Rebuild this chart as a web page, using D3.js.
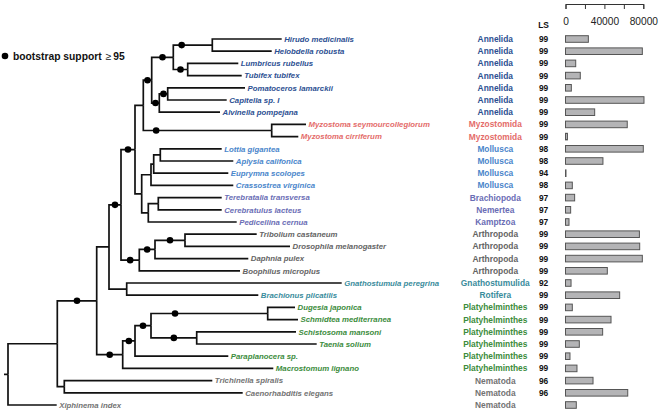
<!DOCTYPE html>
<html><head><meta charset="utf-8">
<script src="https://cdn.jsdelivr.net/npm/d3@7"></script>
<style>
html,body{margin:0;padding:0;background:#fff;}
svg{display:block;font-family:"Liberation Sans",Arial,Helvetica,sans-serif;}
</style></head><body>
<svg id="chart" width="661" height="412"></svg>
<script>
// ---------------- DATA ----------------
const taxa = ["Hirudo medicinalis","Helobdella robusta","Lumbricus rubellus","Tubifex tubifex","Pomatoceros lamarckii","Capitella sp. I","Alvinella pompejana","Myzostoma seymourcollegiorum","Myzostoma cirriferum","Lottia gigantea","Aplysia califonica","Euprymna scolopes","Crassostrea virginica","Terebratalia transversa","Cerebratulus lacteus","Pedicellina cernua","Tribolium castaneum","Drosophila melanogaster","Daphnia pulex","Boophilus microplus","Gnathostumula peregrina","Brachionus plicatilis","Dugesia japonica","Schmidtea mediterranea","Schistosoma mansoni","Taenia solium","Paraplanocera sp.","Macrostomum lignano","Trichinella spiralis","Caenorhabditis elegans","Xiphinema index"];
const phyla = ["Annelida","Annelida","Annelida","Annelida","Annelida","Annelida","Annelida","Myzostomida","Myzostomida","Mollusca","Mollusca","Mollusca","Mollusca","Brachiopoda","Nemertea","Kamptzoa","Arthropoda","Arthropoda","Arthropoda","Arthropoda","Gnathostumulida","Rotifera","Platyhelminthes","Platyhelminthes","Platyhelminthes","Platyhelminthes","Platyhelminthes","Platyhelminthes","Nematoda","Nematoda","Nematoda"];
const lsValues = [99,99,99,99,99,99,99,99,99,98,98,94,98,97,97,97,99,99,99,99,92,99,99,99,99,99,99,99,96,96,null];
const dataSize = [23500,79000,10500,15200,6000,80700,30000,63500,2000,80000,38500,500,7000,9400,5300,3600,76000,76300,79000,43000,5700,55700,7000,46800,38200,14200,4600,11800,28300,64000,11100];
const axisTicks = [0,20000,40000,60000,80000];
const axisLabels = [0,40000,80000];
// tree topology with branch lengths (arbitrary units)
const newick = "((((((((((Hirudo_medicinalis:69.4,Helobdella_robusta:59.4)Leech:39,(Lumbricus_rubellus:50.6,Tubifex_tubifex:54)Olig:14.4)Clit:21.6,((Pomatoceros_lamarckii:77.3,Capitella_sp._I:59)PC:8.4,Alvinella_pompejana:60.7)Poly:7.6)Ann:8.4,(Myzostoma_seymourcollegiorum:34.3,Myzostoma_cirriferum:26.6)Myzo:128.4)AnnMyz:8.3,((((Lottia_gigantea:61.4,Aplysia_califonica:73)LA:6.6,Euprymna_scolopes:74.6)LAE:2.7,Crassostrea_virginica:82.3)Mol:9.3,((Terebratalia_transversa:63.4,Cerebratulus_lacteus:63.4)TC:10,Pedicellina_cernua:88.4)Lph:6.6)MolLph:6.7)Lopho:14,(((Tribolium_castaneum:71.7,Drosophila_melanogaster:105)Ins:30,Daphnia_pulex:93.3)Pan:15.7,Boophilus_microplus:100.7)Arth:18.3)Prot:12,(Gnathostumula_peregrina:215,Brachionus_plicatilis:131.6)GR:17.7)C:12.3,((((Dugesia_japonica:27.3,Schmidtea_mediterranea:30.3)Tri:116.7,(Schistosoma_mansoni:99.3,Taenia_solium:120)ST:45.7)P2:16,Paraplanocera_sp.:93.3)P1:12.3,Macrostomum_lignano:150.6)Pla:26)B:39.4,(Trichinella_spiralis:148,Caenorhabditis_elegans:178.4)Nem:7)A:49.3,Xiphinema_index:48.7);";
// clades with bootstrap support >= 95
const supported = ["Leech","Olig","Clit","Ann","Poly","PC","Myzo","Lopho","Prot","Arth","Pan","Ins","B","Pla","P1","P2","Tri","ST"];

// ---------------- STYLE ----------------
const phylumColor = {
  "Annelida":"#2c4f92","Myzostomida":"#e46c6a","Mollusca":"#4a86cb",
  "Brachiopoda":"#6a6db5","Nemertea":"#6a6db5","Kamptzoa":"#6a6db5",
  "Arthropoda":"#646464","Gnathostumulida":"#3a8c9c","Rotifera":"#3a8c9c",
  "Platyhelminthes":"#3c8c3c","Nematoda":"#737373"
};
const dotFrac = {Leech:0.215, Myzo:0.1, Tri:0.206};

function parseNewick(s){
  let i=0;
  function node(){
    const n={};
    if(s[i]==='('){ i++; n.children=[]; do { n.children.push(node()); } while(s[i]===',' && ++i); i++; }
    let name=''; while(i<s.length && !'():,;'.includes(s[i])) name+=s[i++];
    n.name=name.replace(/_/g,' ');
    if(s[i]===':'){ i++; let num=''; while(i<s.length && !'(),;'.includes(s[i])) num+=s[i++]; n.length=+num; } else n.length=0;
    return n;
  }
  return node();
}

const svg = d3.select("#chart");
const root = d3.hierarchy(parseNewick(newick));
root.eachBefore(d => d.len = (d.parent ? d.parent.len : 0) + d.data.length);
const leaves = root.leaves();
const x = d3.scaleLinear().domain([0, d3.max(leaves, d=>d.len)]).range([8, 341.7]);
const y = d3.scalePoint().domain(taxa).range([39, 405]);
root.eachAfter(d => { d.py = d.children ? d3.mean(d.children, c=>c.py) : y(d.data.name); d.px = x(d.len); });

const gTree = svg.append("g");
gTree.append("path").attr("d", `M${x(0)-4},${root.py}H${x(0)}`).attr("stroke","#111").attr("stroke-width",1.7).attr("fill","none");
gTree.selectAll("path.br").data(root.descendants().filter(d=>d.parent)).join("path")
  .attr("class","br")
  .attr("d", d => `M${d.parent.px},${d.parent.py}V${d.py}H${d.px}`)
  .attr("fill","none").attr("stroke","#111").attr("stroke-width",1.7);

gTree.selectAll("circle.bs").data(root.descendants().filter(d=>supported.includes(d.data.name))).join("circle")
  .attr("class","bs")
  .attr("cx", d => d.parent.px + (dotFrac[d.data.name] ?? 0.5)*(d.px-d.parent.px))
  .attr("cy", d => d.py).attr("r",3.3).attr("fill","#000");

const idx = n => taxa.indexOf(n);
gTree.selectAll("text.taxon").data(leaves).join("text")
  .attr("class","taxon")
  .attr("x", d => d.px + 2.5).attr("y", d => d.py).attr("dy","0.35em")
  .attr("font-size",7.8).attr("font-weight","bold").attr("font-style","italic")
  .attr("fill", d => phylumColor[phyla[idx(d.data.name)]])
  .text(d => d.data.name);

// legend
const lg = svg.append("g");
lg.append("circle").attr("cx",5).attr("cy",56).attr("r",3.3).attr("fill","#000");
const lt = lg.append("text").attr("x",13).attr("y",59.5).attr("font-size",10.3).attr("font-weight","bold").attr("fill","#111");
lt.append("tspan").text("bootstrap support");
lt.append("tspan").attr("dx",4).attr("font-weight","normal").text("\u2265");
lt.append("tspan").attr("dx",2).text("95");

// phylum column
svg.append("g").selectAll("text").data(taxa).join("text")
  .attr("x",495.3).attr("y", d=>y(d)).attr("dy","0.35em").attr("text-anchor","middle")
  .attr("font-size",8.4).attr("font-weight","bold")
  .attr("fill",(d,i)=>phylumColor[phyla[i]]).text((d,i)=>phyla[i]);

// LS column
svg.append("text").attr("x",543.6).attr("y",28).attr("text-anchor","middle")
  .attr("font-size",8.4).attr("font-weight","bold").attr("fill","#111").text("LS");
svg.append("g").selectAll("text").data(taxa).join("text")
  .attr("x",543.6).attr("y", d=>y(d)).attr("dy","0.35em").attr("text-anchor","middle")
  .attr("font-size",8.4).attr("font-weight","bold").attr("fill","#111")
  .text((d,i)=> lsValues[i]==null ? "" : lsValues[i]);

// bars
const bx = d3.scaleLinear().domain([0,80000]).range([565.5,643.3]);
svg.append("g").selectAll("rect").data(taxa).join("rect")
  .attr("x", bx(0)).attr("y", d=>y(d)-3.3)
  .attr("width",(d,i)=>bx(dataSize[i])-bx(0)).attr("height",6.6)
  .attr("fill","#b4b4b6").attr("stroke","#555").attr("stroke-width",1);

const ax = svg.append("g").attr("transform","translate(0,4)")
  .call(d3.axisBottom(bx).tickValues(axisTicks).tickSize(5).tickPadding(9)
    .tickFormat(d => axisLabels.includes(d) ? d : ""));
ax.select(".domain").attr("stroke","#333");
ax.selectAll(".tick line").attr("stroke","#333");
ax.selectAll(".tick text").attr("font-size",10.2).attr("fill","#222").attr("font-family","Liberation Sans, Arial, sans-serif");
</script>
</body></html>
